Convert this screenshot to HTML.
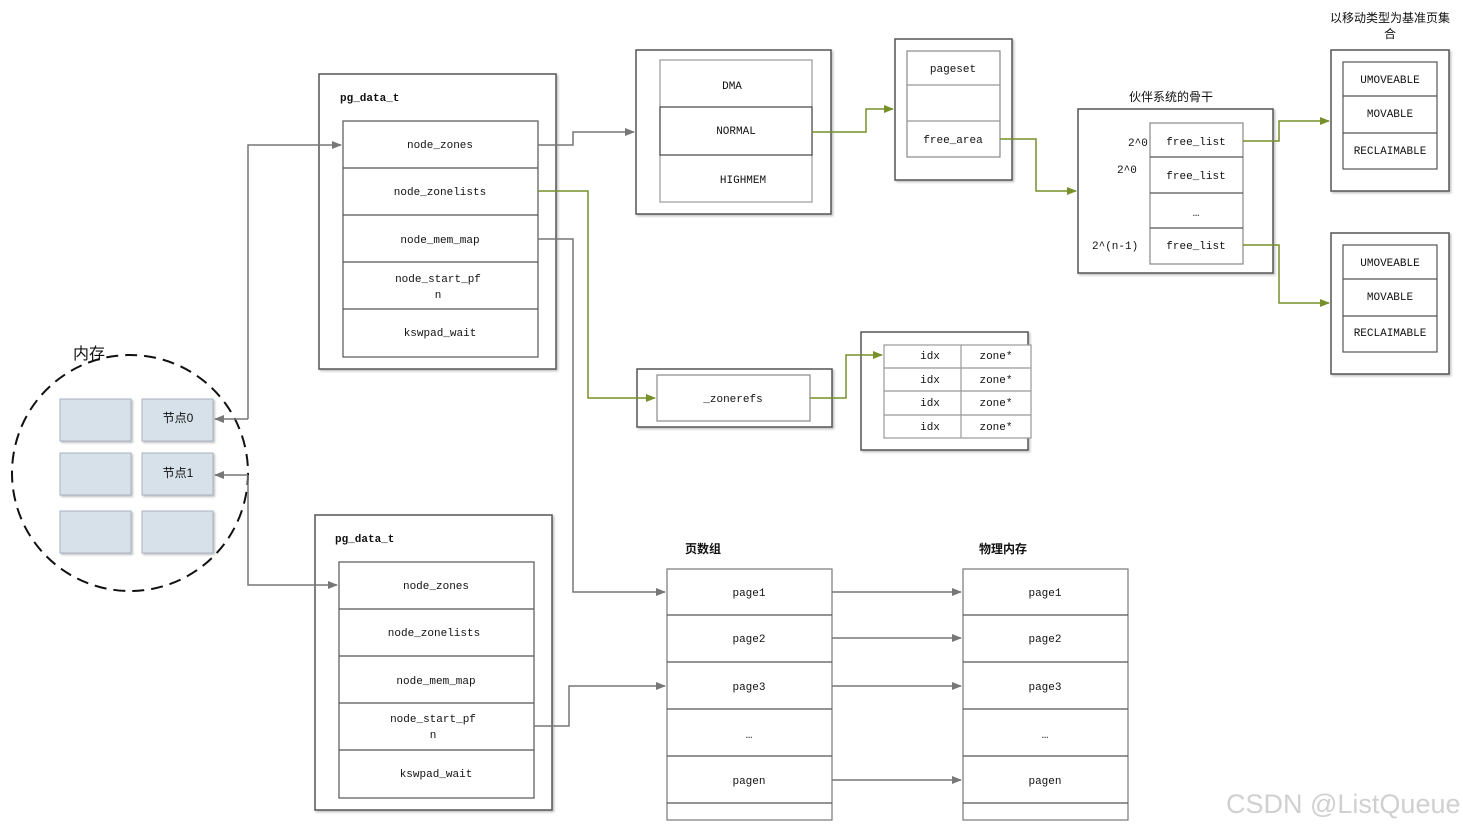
<!DOCTYPE html>
<html><head><meta charset="utf-8"><style>
html,body{margin:0;padding:0;background:#fff;width:1463px;height:830px;overflow:hidden}
svg text{font-family:"Liberation Mono","Noto Serif CJK SC",monospace;font-size:11px;fill:#111}
.c{font-family:"Liberation Sans","Noto Sans CJK SC",sans-serif}
</style></head><body>
<svg width="1463" height="830" viewBox="0 0 1463 830" xmlns="http://www.w3.org/2000/svg">
<defs>
<marker id="ag" markerWidth="10" markerHeight="8" refX="9" refY="4" orient="auto" markerUnits="userSpaceOnUse"><path d="M0,0 L10,4 L0,8z" fill="#777"/></marker>
<marker id="aG" markerWidth="10" markerHeight="8" refX="9" refY="4" orient="auto" markerUnits="userSpaceOnUse"><path d="M0,0 L10,4 L0,8z" fill="#77902a"/></marker>
<filter id="sh"><feDropShadow dx="1.5" dy="1.5" stdDeviation="1" flood-color="#000" flood-opacity="0.25"/></filter>
</defs>
<g fill="#fff" stroke="#555" stroke-width="1.5" filter="url(#sh)">
<rect x="319" y="74" width="237" height="295"/>
<rect x="636" y="50" width="195" height="164"/>
<rect x="895" y="39" width="117" height="141"/>
<rect x="1078" y="109" width="195" height="164"/>
<rect x="1331" y="50" width="118" height="141"/>
<rect x="1331" y="233" width="118" height="141"/>
<rect x="637" y="369" width="195" height="58"/>
<rect x="861" y="332" width="167" height="118"/>
<rect x="315" y="515" width="237" height="295"/>
</g>
<g fill="#fff" stroke="#555" stroke-width="1.2">
<rect x="343" y="121" width="195" height="236"/>
<path d="M343 168H538M343 215H538M343 262H538M343 309H538"/>
<rect x="660" y="60" width="152" height="142" stroke="#999"/>
<rect x="660" y="107" width="152" height="48" stroke="#444"/>
<rect x="907" y="51" width="93" height="106" stroke="#888"/>
<path d="M907 85H1000M907 121H1000" stroke="#999"/>
<rect x="1150" y="123" width="93" height="141" stroke="#888"/>
<path d="M1150 157H1243M1150 193H1243M1150 228H1243"/>
<rect x="1343" y="62" width="94" height="107"/>
<path d="M1343 96H1437M1343 133H1437"/>
<rect x="1343" y="245" width="94" height="107"/>
<path d="M1343 279H1437M1343 316H1437"/>
<rect x="657" y="375" width="153" height="46" stroke="#888"/>
<rect x="884" y="345" width="147" height="93" stroke="#999"/>
<path d="M884 368H1031M884 391H1031M884 415H1031M961 345V438" stroke="#999"/>
<rect x="339" y="562" width="195" height="236"/>
<path d="M339 609H534M339 656H534M339 703H534M339 750H534"/>
<rect x="667" y="569" width="165" height="251" stroke="#777"/>
<path d="M667 615H832M667 662H832M667 709H832M667 756H832M667 803H832"/>
<rect x="963" y="569" width="165" height="251" stroke="#777"/>
<path d="M963 615H1128M963 662H1128M963 709H1128M963 756H1128M963 803H1128"/>
</g>
<ellipse cx="130" cy="473" rx="118" ry="118" fill="none" stroke="#111" stroke-width="2" stroke-dasharray="12,7"/>
<g fill="#d7e1ea" stroke="#aab4bf" filter="url(#sh)">
<rect x="60" y="399" width="71" height="42"/><rect x="142" y="399" width="71" height="42"/>
<rect x="60" y="453" width="71" height="42"/><rect x="142" y="453" width="71" height="42"/>
<rect x="60" y="511" width="71" height="42"/><rect x="142" y="511" width="71" height="42"/>
</g>
<g fill="none" stroke="#777" stroke-width="1.5">
<path d="M248 419V145H341" marker-end="url(#ag)"/>
<path d="M248 419H215" marker-end="url(#ag)"/>
<path d="M248 475V585H337" marker-end="url(#ag)"/>
<path d="M248 475H215" marker-end="url(#ag)"/>
<path d="M538 145H573V132H634" marker-end="url(#ag)"/>
<path d="M538 239H573V592H665" marker-end="url(#ag)"/>
<path d="M534 726H569V686H665" marker-end="url(#ag)"/>
<path d="M832 592H961" marker-end="url(#ag)"/>
<path d="M832 638H961" marker-end="url(#ag)"/>
<path d="M832 686H961" marker-end="url(#ag)"/>
<path d="M832 780H961" marker-end="url(#ag)"/>
</g>
<g fill="none" stroke="#77902a" stroke-width="1.5">
<path d="M538 191H588V398H655" marker-end="url(#aG)"/>
<path d="M812 132H866V109H893" marker-end="url(#aG)"/>
<path d="M1000 139H1036V191H1076" marker-end="url(#aG)"/>
<path d="M1243 141H1279V121H1329" marker-end="url(#aG)"/>
<path d="M1243 245H1279V303H1329" marker-end="url(#aG)"/>
<path d="M810 398H846V355H882" marker-end="url(#aG)"/>
</g>
<g text-anchor="middle">
<text x="440" y="148">node_zones</text>
<text x="440" y="195">node_zonelists</text>
<text x="440" y="243">node_mem_map</text>
<text x="438" y="282">node_start_pf</text><text x="438" y="298">n</text>
<text x="440" y="336">kswpad_wait</text>
<text x="732" y="89">DMA</text><text x="736" y="134">NORMAL</text><text x="743" y="183">HIGHMEM</text>
<text x="953" y="72">pageset</text><text x="953" y="143">free_area</text>
<text x="1196" y="145">free_list</text><text x="1196" y="179">free_list</text><text x="1196" y="216">…</text><text x="1196" y="249">free_list</text>
<text x="1390" y="83">UMOVEABLE</text><text x="1390" y="117">MOVABLE</text><text x="1390" y="154">RECLAIMABLE</text>
<text x="1390" y="266">UMOVEABLE</text><text x="1390" y="300">MOVABLE</text><text x="1390" y="336">RECLAIMABLE</text>
<text x="733" y="402">_zonerefs</text>
<text x="930" y="359">idx</text><text x="930" y="383">idx</text><text x="930" y="406">idx</text><text x="930" y="430">idx</text>
<text x="996" y="359">zone*</text><text x="996" y="383">zone*</text><text x="996" y="406">zone*</text><text x="996" y="430">zone*</text>
<text x="436" y="589">node_zones</text>
<text x="434" y="636">node_zonelists</text>
<text x="436" y="684">node_mem_map</text>
<text x="433" y="722">node_start_pf</text><text x="433" y="738">n</text>
<text x="436" y="777">kswpad_wait</text>
<text x="749" y="596">page1</text><text x="749" y="642">page2</text><text x="749" y="690">page3</text><text x="749" y="738">…</text><text x="749" y="784">pagen</text>
<text x="1045" y="596">page1</text><text x="1045" y="642">page2</text><text x="1045" y="690">page3</text><text x="1045" y="738">…</text><text x="1045" y="784">pagen</text>
<text x="178" y="422" class="c" style="font-size:12px">节点0</text>
<text x="178" y="477" class="c" style="font-size:12px">节点1</text>
<text x="1171" y="101" class="c" style="font-size:12px">伙伴系统的骨干</text>
<text x="1390" y="22" class="c" style="font-size:12px">以移动类型为基准页集</text>
<text x="1390" y="38" class="c" style="font-size:12px">合</text>
</g>
<text x="1128" y="146">2^0</text><text x="1117" y="173">2^0</text><text x="1092" y="249">2^(n-1)</text>
<text x="340" y="101" style="font-weight:bold">pg_data_t</text>
<text x="335" y="542" style="font-weight:bold">pg_data_t</text>
<text x="685" y="553" class="c" style="font-weight:bold;font-size:12px">页数组</text>
<text x="979" y="553" class="c" style="font-weight:bold;font-size:12px">物理内存</text>
<text x="73" y="359" class="c" style="font-size:16px">内存</text>
<text x="1226" y="813" class="c" style="font-size:27px;fill:#d0d0d0">CSDN @ListQueue</text>
</svg>
</body></html>
